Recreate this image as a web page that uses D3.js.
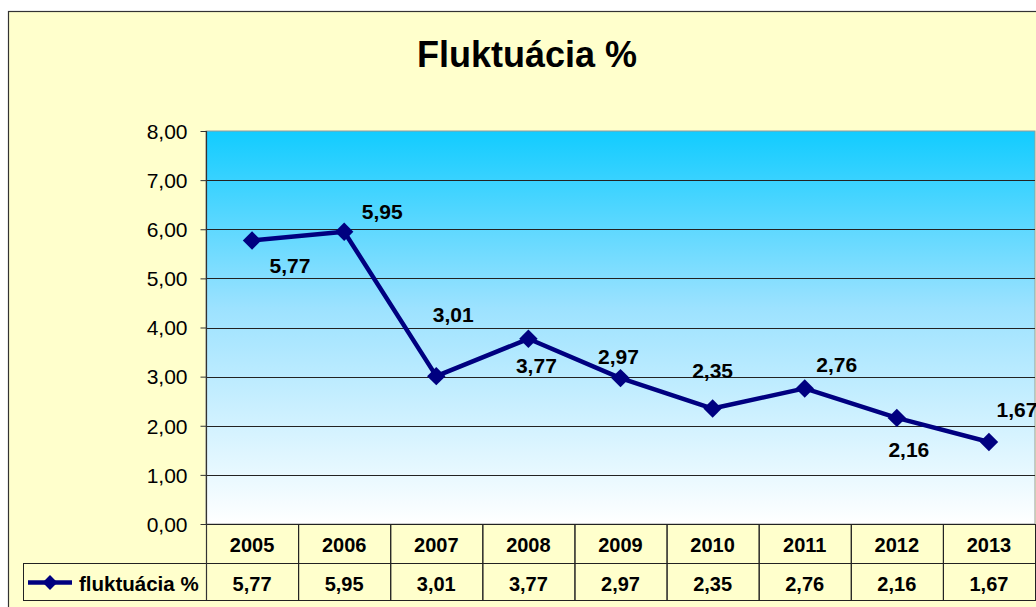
<!DOCTYPE html>
<html>
<head>
<meta charset="utf-8">
<script src="https://cdn.jsdelivr.net/npm/d3@7"></script>
<style>
  body { margin: 0; background: #fff; }
  text { font-family: Arial, "Liberation Sans", sans-serif; }
</style>
</head>
<body>
<div id="chart"></div>
<script>
// Data
const years = ["2005", "2006", "2007", "2008", "2009", "2010", "2011", "2012", "2013"];
const values = [5.77, 5.95, 3.01, 3.77, 2.97, 2.35, 2.76, 2.16, 1.67];
const yTicks = [0, 1, 2, 3, 4, 5, 6, 7, 8];
const seriesName = "fluktuácia %";
const title = "Fluktuácia %";

// Where Excel put each data label, relative to its point (dx to label centre, dy to baseline)
const labelOffsets = [[38, 32], [38, -13], [17, -54], [8, 34], [-2, -14], [0, -31], [32, -16], [12, 39], [28, -25]];

const width = 1036, height = 607;
const plot = { left: 206, right: 1035, top: 131, bottom: 524 };
const rowH1 = 39, rowH2 = 37, legendLeft = 23;

const fmt = d3.formatLocale({ decimal: ",", thousands: " ", grouping: [3], currency: ["", ""] }).format(".2f");

const svg = d3.select("#chart").append("svg")
    .attr("width", width)
    .attr("height", height);

// Chart area background + border
svg.append("rect")
    .attr("x", 8.5).attr("y", 11.5)
    .attr("width", 1100).attr("height", 700)
    .attr("fill", "#FFFFCC")
    .attr("stroke", "#333")
    .attr("stroke-width", 1.2);

// Title
svg.append("text")
    .attr("x", 527).attr("y", 67)
    .attr("text-anchor", "middle")
    .attr("font-size", "36px")
    .attr("font-weight", "bold")
    .attr("fill", "#000")
    .text(title);

const x = d3.scaleBand().domain(years).range([plot.left, plot.right]).padding(0);
const y = d3.scaleLinear().domain([0, 8]).range([plot.bottom, plot.top]);

// Plot area gradient
const grad = svg.append("defs").append("linearGradient")
    .attr("id", "plotGrad")
    .attr("x1", 0).attr("y1", 0).attr("x2", 0).attr("y2", 1);
grad.append("stop").attr("offset", "0%").attr("stop-color", "#12CCFF");
grad.append("stop").attr("offset", "45%").attr("stop-color", "#9CE2FF");
grad.append("stop").attr("offset", "100%").attr("stop-color", "#FFFFFF");

svg.append("rect")
    .attr("x", plot.left).attr("y", plot.top)
    .attr("width", plot.right - plot.left).attr("height", plot.bottom - plot.top)
    .attr("fill", "url(#plotGrad)")
    .attr("stroke", "#9a9a9a")
    .attr("stroke-width", 1);

// Gridlines
svg.append("g")
    .selectAll("line")
    .data(yTicks.filter(d => d > 0 && d < 8))
    .join("line")
    .attr("x1", plot.left).attr("x2", plot.right)
    .attr("y1", d => Math.round(y(d)) + 0.5)
    .attr("y2", d => Math.round(y(d)) + 0.5)
    .attr("stroke", "#222")
    .attr("stroke-width", 1);

// Y axis
const yAxis = svg.append("g")
    .attr("transform", `translate(${plot.left + 0.5},0)`)
    .call(d3.axisLeft(y).tickValues(yTicks).tickFormat(fmt).tickSize(6).tickPadding(13));
yAxis.select(".domain").remove();
yAxis.selectAll(".tick line").attr("stroke", "#333");
yAxis.selectAll(".tick text")
    .attr("font-size", "21px")
    .attr("font-family", "Arial, 'Liberation Sans', sans-serif")
    .attr("fill", "#000")
    .attr("dy", "0.35em");

// Data table
const table = svg.append("g");
const tableBottom = plot.bottom + rowH1 + rowH2;

// year header cells
table.selectAll("rect.year")
    .data(years)
    .join("rect")
    .attr("class", "year")
    .attr("x", d => x(d) + 0.5).attr("y", plot.bottom + 0.5)
    .attr("width", x.bandwidth()).attr("height", rowH1)
    .attr("fill", "none").attr("stroke", "#222");

table.selectAll("rect.val")
    .data(years)
    .join("rect")
    .attr("class", "val")
    .attr("x", d => x(d) + 0.5).attr("y", plot.bottom + rowH1 + 0.5)
    .attr("width", x.bandwidth()).attr("height", rowH2)
    .attr("fill", "none").attr("stroke", "#222");

table.append("rect")
    .attr("x", legendLeft + 0.5).attr("y", plot.bottom + rowH1 + 0.5)
    .attr("width", plot.left - legendLeft).attr("height", rowH2)
    .attr("fill", "none").attr("stroke", "#222");

// axis line down through the table
svg.append("line")
    .attr("x1", plot.left + 0.5).attr("x2", plot.left + 0.5)
    .attr("y1", plot.top).attr("y2", tableBottom)
    .attr("stroke", "#333").attr("stroke-width", 1.2);

table.selectAll("text.year")
    .data(years)
    .join("text")
    .attr("class", "year")
    .attr("x", d => x(d) + x.bandwidth() / 2)
    .attr("y", plot.bottom + 28)
    .attr("text-anchor", "middle")
    .attr("font-size", "20px")
    .attr("font-weight", "bold")
    .text(d => d);

table.selectAll("text.val")
    .data(values)
    .join("text")
    .attr("class", "val")
    .attr("x", (d, i) => x(years[i]) + x.bandwidth() / 2)
    .attr("y", plot.bottom + rowH1 + 28)
    .attr("text-anchor", "middle")
    .attr("font-size", "20px")
    .attr("font-weight", "bold")
    .text(d => fmt(d));

// Legend key inside the table
const legendY = plot.bottom + rowH1 + rowH2 / 2 + 1;
table.append("line")
    .attr("x1", 28).attr("x2", 72)
    .attr("y1", legendY).attr("y2", legendY)
    .attr("stroke", "#000080").attr("stroke-width", 4.5);
table.append("path")
    .attr("d", d3.symbol(d3.symbolSquare, 110)())
    .attr("transform", `translate(50,${legendY}) rotate(45)`)
    .attr("fill", "#000080");
table.append("text")
    .attr("x", 79).attr("y", plot.bottom + rowH1 + 28)
    .attr("font-size", "20.5px")
    .attr("font-weight", "bold")
    .text(seriesName);

// Series line
const line = d3.line()
    .x((d, i) => x(years[i]) + x.bandwidth() / 2)
    .y(d => y(d));

svg.append("path")
    .datum(values)
    .attr("d", line)
    .attr("fill", "none")
    .attr("stroke", "#000080")
    .attr("stroke-width", 4.5)
    .attr("stroke-linejoin", "round");

svg.append("g")
    .selectAll("path")
    .data(values)
    .join("path")
    .attr("d", d3.symbol(d3.symbolSquare, 170)())
    .attr("transform", (d, i) => `translate(${x(years[i]) + x.bandwidth() / 2},${y(d)}) rotate(45)`)
    .attr("fill", "#000080");

// Data labels
svg.append("g")
    .selectAll("text")
    .data(values)
    .join("text")
    .attr("x", (d, i) => x(years[i]) + x.bandwidth() / 2 + labelOffsets[i][0])
    .attr("y", (d, i) => y(d) + labelOffsets[i][1])
    .attr("text-anchor", "middle")
    .attr("font-size", "21px")
    .attr("font-weight", "bold")
    .attr("fill", "#000")
    .text(d => fmt(d));
</script>
</body>
</html>
